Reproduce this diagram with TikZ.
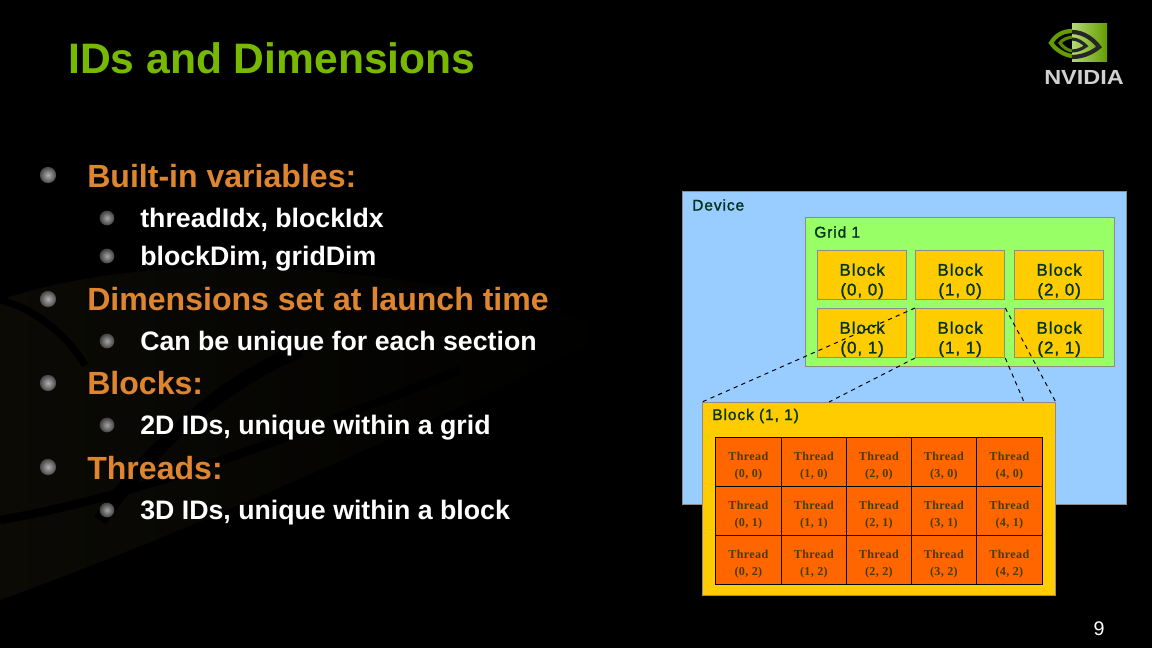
\documentclass[tikz,border=0pt]{standalone}
\usepackage{fontspec}
\setmainfont{Liberation Sans}
\newfontfamily\threadfont[LetterSpace=3]{Liberation Serif}
\newfontfamily\panelfont[FakeBold=1.4,LetterSpace=6]{Liberation Sans}
\usetikzlibrary{calc}
\definecolor{titlegreen}{RGB}{118,185,0}
\definecolor{headorange}{RGB}{222,133,48}
\definecolor{devblue}{RGB}{153,204,255}
\definecolor{gridgreen}{RGB}{153,255,102}
\definecolor{blockyellow}{RGB}{255,204,0}
\definecolor{threadorange}{RGB}{255,102,0}
\definecolor{labeldark}{RGB}{0,51,30}
\definecolor{threadtext}{RGB}{70,60,0}
\definecolor{bgolive}{RGB}{11,10,5}
\tikzset{
  panel/.style={draw=black!45,line width=.6pt,anchor=north west,inner sep=0pt},
  blockbox/.style={panel,fill=blockyellow,minimum width=63.6pt,minimum height=35pt,text height=29pt,text depth=0pt,font=\panelfont\fontsize{12}{14}\selectfont,text=labeldark,align=center},
  threadbox/.style={draw=black,line width=.7pt,fill=threadorange,anchor=north west,inner sep=0pt,text height=21.7pt,text depth=0pt,font=\threadfont\bfseries\fontsize{8.6}{11.5}\selectfont,text=threadtext,align=center},
  paneltext/.style={anchor=west,inner sep=0pt,font=\panelfont\fontsize{11}{13}\selectfont,text=labeldark},
  link/.style={dashed,line width=.7pt,black},
  headline/.style={anchor=base west,inner sep=0pt,font=\bfseries\fontsize{22.8}{26}\selectfont,text=headorange},
  subline/.style={anchor=base west,inner sep=0pt,font=\bfseries\fontsize{19}{23}\selectfont,text=white},
  bighead/.style={circle,inner sep=0pt,minimum size=11.5pt,inner color=black!30,outer color=black!72,draw=none},
  smallhead/.style={circle,inner sep=0pt,minimum size=10.5pt,inner color=black!35,outer color=black!75,draw=none},
}
\begin{document}
\begin{tikzpicture}[x=.025cm,y=-.025cm]
  \fill[black] (0,0) rectangle (1152,648);
  \useasboundingbox (0,0) rectangle (1152,648);
  % faint swirl behind the text
  \shade[left color=bgolive,right color=black] (0,300) .. controls (180,240) and (430,270) .. (620,330) .. controls (480,400) and (220,520) .. (0,600) -- cycle;
  \draw[line width=10pt,black] (100,520) .. controls (150,450) and (210,390) .. (300,350);
  \draw[line width=5pt,black] (0,300) .. controls (40,310) and (70,340) .. (85,365);
  \draw[line width=6pt,black] (0,520) .. controls (120,500) and (260,450) .. (460,370);
  % title
  \node (title) [anchor=base west,inner sep=0pt,font=\bfseries\fontsize{30.3}{34}\selectfont,text=titlegreen] at (68,74) {IDs and Dimensions};
  \node (page) [anchor=center,inner sep=0pt,font=\fontsize{14}{16}\selectfont,text=white] at (1099,629) {9};
  % logo
  \shade[left color=titlegreen!55!white,right color=titlegreen!85!black] (1072,24) rectangle (1107,62);
  \draw[line width=3pt,titlegreen!85!black] (1072,31) .. controls (1062,31) and (1055,36) .. (1051,43) .. controls (1056,50) and (1064,55) .. (1072,56);
  \draw[line width=2.2pt,titlegreen!75!black] (1072,37) .. controls (1066,38) and (1062,40) .. (1060,43) .. controls (1063,47) and (1067,50) .. (1072,51);
  \draw[line width=3pt,black!85] (1072,32) .. controls (1084,32) and (1094,40) .. (1099,47) .. controls (1092,53) and (1082,57) .. (1072,57);
  \draw[line width=2.2pt,black!85] (1072,39) .. controls (1078,39) and (1083,43) .. (1086,46) .. controls (1082,49) and (1077,51) .. (1072,51);
  \node (logo) [anchor=base,inner sep=0pt,font=\bfseries\fontsize{14.5}{15}\selectfont,text=black!18] at (1084,85) {\scalebox{1.15}[1]{NVIDIA}};
  % bullet list
  \node (h1) [headline] at (87,188) {Built-in variables:};
  \node (s1) [subline] at (140,227.5) {threadIdx, blockIdx};
  \node (s2) [subline] at (140,266) {blockDim, gridDim};
  \node (h2) [headline] at (87,311) {Dimensions set at launch time};
  \node (s3) [subline] at (140,350.5) {Can be unique for each section};
  \node (h3) [headline] at (87,395) {Blocks:};
  \node (s4) [subline] at (140,434.5) {2D IDs, unique within a grid};
  \node (h4) [headline] at (87,479.5) {Threads:};
  \node (s5) [subline] at (140,519.5) {3D IDs, unique within a block};
  \foreach \y in {175,299,383,467}
    \node [bighead] at (48,\y) {};
  \foreach \y in {218,256,341,425,510}
    \node [smallhead] at (107,\y) {};
  % device and grid
  \node (device) [panel,fill=devblue,minimum width=316pt,minimum height=222.5pt] at (682,191) {};
  \node (devicetext) [paneltext] at (692,205) {Device};
  \node (grid) [panel,fill=gridgreen,minimum width=220pt,minimum height=106pt] at (805,217) {};
  \node (gridtext) [paneltext] at (814,232) {Grid 1};
  \node (b00) [blockbox] at (817,250) {Block\\(0, 0)};
  \node (b10) [blockbox] at (915,250) {Block\\(1, 0)};
  \node (b20) [blockbox] at (1014,250) {Block\\(2, 0)};
  \node (b01) [blockbox] at (817,308) {Block\\(0, 1)};
  \node (b11) [blockbox] at (915,308) {Block\\(1, 1)};
  \node (b21) [blockbox] at (1014,308) {Block\\(2, 1)};
  % zoomed block
  \node (detail) [panel,fill=blockyellow,minimum width=251pt,minimum height=137.5pt] at (702,402) {};
  \node (detailtext) [paneltext] at (712,416) {Block (1, 1)};
  \foreach \i/\x/\w in {0/715/66,1/781/65,2/846/65,3/911/65,4/976/66}
    \foreach \j/\y/\h in {0/437/49,1/486/49,2/535/49}
      \node (t\i\j) [threadbox,minimum width=\w*.7087pt,minimum height=\h*.7087pt] at (\x,\y) {Thread\\(\i, \j)};
  % zoom lines
  \coordinate (d1) at (829,402);
  \coordinate (d2) at (1024,402);
  \draw[link] (b11.north west) -- (detail.north west);
  \draw[link] (b11.south west) -- (d1);
  \draw[link] (b11.south east) -- (d2);
  \draw[link] (b11.north east) -- (detail.north east);
\end{tikzpicture}
\end{document}
